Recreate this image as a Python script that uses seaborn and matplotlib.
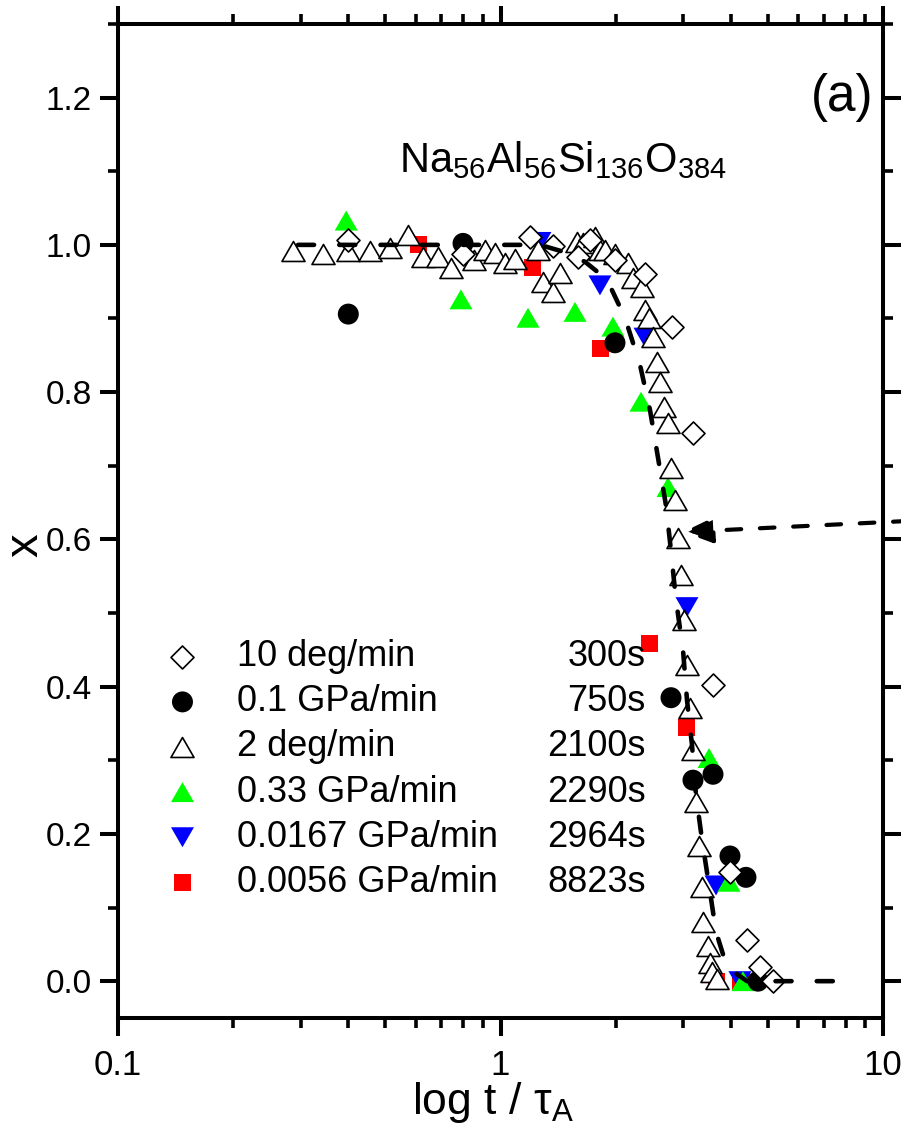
import matplotlib
matplotlib.use("Agg")
import matplotlib.pyplot as plt
import seaborn as sns
from matplotlib.path import Path
from matplotlib.ticker import (LogLocator, MultipleLocator, NullFormatter, FixedLocator,
                               FixedFormatter, FormatStrFormatter)

sns.set_theme(style="white")
plt.rcParams["font.family"] = ["Liberation Sans", "DejaVu Sans"]
plt.rcParams["mathtext.fontset"] = "custom"
plt.rcParams["mathtext.rm"] = "Liberation Sans"
plt.rcParams["mathtext.it"] = "Liberation Sans:italic"
plt.rcParams["mathtext.default"] = "regular"
for key in ["text.color", "axes.labelcolor", "xtick.color", "ytick.color", "axes.edgecolor"]:
    plt.rcParams[key] = "black"

# ---- data: reduced time t/tau_A and fraction x ----
t_10deg = [0.400, 0.798, 1.194, 1.371, 1.595, 1.714, 1.992, 2.387, 2.808, 3.186,
           3.594, 3.981, 4.410, 4.769, 5.158]
x_10deg = [1.006, 0.988, 1.011, 0.999, 0.983, 1.006, 0.980, 0.960, 0.889, 0.745,
           0.402, 0.148, 0.056, 0.019, 0.000]

t_01gpa = [0.400, 0.798, 1.992, 2.791, 3.186, 3.594, 3.981, 4.383, 4.712]
x_01gpa = [0.906, 1.002, 0.867, 0.385, 0.273, 0.281, 0.170, 0.141, 0.000]

t_2deg = [0.287, 0.343, 0.400, 0.456, 0.514, 0.573, 0.627, 0.686, 0.742, 0.852,
          0.911, 0.967, 1.027, 1.091, 1.253, 1.291, 1.371, 1.431, 1.585, 1.644,
          1.766, 1.820, 1.876, 1.992, 2.154, 2.220, 2.344, 2.387, 2.445, 2.505,
          2.566, 2.612, 2.676, 2.741, 2.791, 2.859, 2.911, 2.964, 3.018, 3.073,
          3.129, 3.186, 3.244, 3.304, 3.364, 3.384, 3.487, 3.529, 3.572, 3.681]
x_2deg = [0.991, 0.988, 0.991, 0.991, 0.996, 1.014, 0.983, 0.983, 0.969, 0.980,
          0.993, 0.989, 0.976, 0.981, 0.993, 0.950, 0.936, 0.962, 1.004, 1.003,
          1.011, 0.993, 0.993, 0.987, 0.976, 0.955, 0.943, 0.912, 0.901, 0.875,
          0.841, 0.814, 0.780, 0.758, 0.697, 0.654, 0.602, 0.552, 0.491, 0.429,
          0.371, 0.314, 0.243, 0.183, 0.128, 0.080, 0.048, 0.024, 0.012, 0.003]

t_033gpa = [0.395, 0.788, 1.180, 1.566, 1.968, 2.330, 2.741, 3.509, 3.957, 4.305]
x_033gpa = [1.033, 0.926, 0.901, 0.909, 0.889, 0.787, 0.671, 0.303, 0.135, 0.000]

t_00167gpa = [1.268, 1.820, 2.387, 3.073, 3.660, 4.227]
x_00167gpa = [1.004, 0.945, 0.874, 0.508, 0.130, 0.000]

t_00056gpa = [0.612, 1.216, 1.831, 2.445, 3.055, 3.681, 4.254]
x_00056gpa = [1.000, 0.969, 0.859, 0.458, 0.345, 0.000, 0.000]

# dashed master curve
t_fit = [0.2955, 1.268, 1.431, 1.663, 1.898, 2.116, 2.316, 2.459, 2.581, 2.708,
         2.774, 2.876, 3.000, 3.073, 3.167, 3.244, 3.364, 3.509, 3.660, 3.910,
         4.410, 7.49]
x_fit = [1.000, 1.000, 0.992, 0.977, 0.953, 0.901, 0.837, 0.776, 0.711, 0.646,
         0.597, 0.518, 0.450, 0.382, 0.321, 0.253, 0.192, 0.130, 0.067, 0.019,
         0.000, 0.000]

labels = ["10 deg/min", "0.1 GPa/min", "2 deg/min", "0.33 GPa/min",
          "0.0167 GPa/min", "0.0056 GPa/min"]
times = ["300s", "750s", "2100s", "2290s", "2964s", "8823s"]

# ---- marker shapes ----
tri_up = Path([(-1, -0.866), (1, -0.866), (0, 0.866), (-1, -0.866)], closed=True)
tri_dn = Path([(-1, 0.866), (1, 0.866), (0, -0.866), (-1, 0.866)], closed=True)

fig = plt.figure(figsize=(9.01, 11.42), dpi=100)
ax = fig.add_axes([0.131, 0.1086, 0.849, 0.8704])

ew = 1.2
handles = {}
# drawn bottom to top
handles[5] = sns.scatterplot(x=t_00056gpa, y=x_00056gpa, marker="s", s=150, color="#ff0000",
                             edgecolor="none", linewidth=0, ax=ax, zorder=3).collections[-1]
handles[4] = sns.scatterplot(x=t_00167gpa, y=x_00167gpa, marker=tri_dn, s=275, color="#0000ff",
                             edgecolor="none", linewidth=0, ax=ax, zorder=4).collections[-1]
handles[3] = sns.scatterplot(x=t_033gpa, y=x_033gpa, marker=tri_up, s=275, color="#00ff00",
                             edgecolor="none", linewidth=0, ax=ax, zorder=5).collections[-1]
handles[1] = sns.scatterplot(x=t_01gpa, y=x_01gpa, marker="o", s=228, color="black",
                             edgecolor="none", linewidth=0, ax=ax, zorder=6).collections[-1]
handles[2] = sns.scatterplot(x=t_2deg, y=x_2deg, marker=tri_up, s=275, color="white",
                             edgecolor="black", linewidth=ew, ax=ax, zorder=7).collections[-1]
handles[0] = sns.scatterplot(x=t_10deg, y=x_10deg, marker="D", s=137, color="white",
                             edgecolor="black", linewidth=ew, ax=ax, zorder=8).collections[-1]

sns.lineplot(x=t_fit, y=x_fit, sort=False, estimator=None, color="black", lw=3.3,
             dashes=False, ax=ax, zorder=10)
fit_line = ax.lines[-1]
fit_line.set_dashes((3.5, 5.5))
fit_line.set_dash_capstyle("round")

# arrow pointing at the inflection of the curve
ax.annotate("", xy=(3.00, 0.610), xytext=(11.6, 0.625), xycoords="data",
            textcoords="data", annotation_clip=False,
            arrowprops=dict(arrowstyle="-|>,head_length=0.9,head_width=0.38",
                            color="black", lw=3.0, linestyle=(0, (3.5, 4.5)),
                            shrinkA=0, shrinkB=0, mutation_scale=20))

ax.set_xscale("log")
ax.set_xlim(0.1, 10)
ax.set_ylim(-0.05, 1.30)

ax.xaxis.set_major_locator(FixedLocator([0.1, 1, 10]))
ax.xaxis.set_major_formatter(FixedFormatter(["0.1", "1", "10"]))
ax.xaxis.set_minor_locator(LogLocator(base=10, subs=range(2, 10)))
ax.xaxis.set_minor_formatter(NullFormatter())
ax.yaxis.set_major_locator(MultipleLocator(0.2))
ax.yaxis.set_minor_locator(MultipleLocator(0.1))
ax.yaxis.set_major_formatter(FormatStrFormatter("%.1f"))

for sp in ax.spines.values():
    sp.set_linewidth(2.9)
    sp.set_color("black")
ax.tick_params(which="major", direction="out", length=13, width=2.9, color="black",
               bottom=True, left=True, top=True, right=True, labelsize=24, pad=6,
               labelcolor="black")
ax.tick_params(which="minor", direction="out", length=7, width=2.6, color="black",
               bottom=True, left=True, top=True, right=True)
ax.tick_params(axis="x", which="major", pad=9, labelsize=25)

ax.set_xlabel("log t / $\\tau_A$", fontsize=32, color="black")
ax.set_ylabel("x", fontsize=34, color="black")
ax.xaxis.set_label_coords(0.49, -0.062)
ax.yaxis.set_label_coords(-0.092, 0.476)

ax.text(0.582, 0.863, "Na$_{56}$Al$_{56}$Si$_{136}$O$_{384}$", transform=ax.transAxes,
        ha="center", va="center", fontsize=30)
ax.text(0.988, 0.926, "(a)", transform=ax.transAxes, ha="right", va="center", fontsize=37)

leg = ax.legend([handles[i] for i in range(6)], labels, loc="upper left",
                bbox_to_anchor=(0.063, 0.381), frameon=False, fontsize=26,
                borderpad=0, borderaxespad=0, handlelength=0.9, handletextpad=1.05,
                labelspacing=0.28, scatterpoints=1)
for t in leg.get_texts():
    t.set_color("black")

fig.canvas.draw()
inv = ax.transAxes.inverted()
for txt, tm in zip(leg.get_texts(), times):
    bb = txt.get_window_extent()
    yc = inv.transform((0, (bb.y0 + bb.y1) / 2))[1]
    ax.text(0.69, yc, tm, transform=ax.transAxes, ha="right", va="center", fontsize=26)

fig.savefig("out.png", dpi=100)
